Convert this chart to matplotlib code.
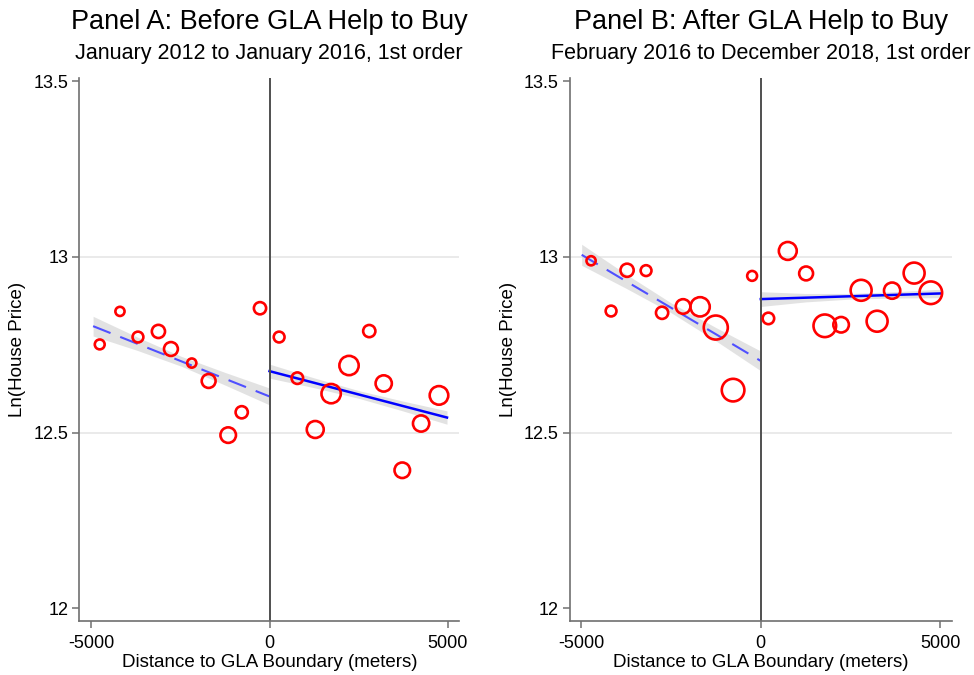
import numpy as np
import matplotlib.pyplot as plt

plt.rcParams['font.family'] = ['Liberation Sans', 'DejaVu Sans']

# -------------- data --------------
# Panel A: binned means, January 2012 - January 2016
a_dist = [-4764, -4196, -3691, -3117, -2766, -2181, -1708, -1159, -780, -267,
          270, 781, 1283, 1729, 2231, 2799, 3204, 3725, 4253, 4755]
a_price = [12.751, 12.845, 12.772, 12.788, 12.738, 12.698, 12.647, 12.493, 12.558, 12.854,
           12.772, 12.655, 12.509, 12.611, 12.691, 12.789, 12.640, 12.393, 12.526, 12.606]
a_weight = [5.3, 5.0, 5.7, 6.7, 7.0, 5.0, 7.0, 7.7, 6.3, 6.3,
            5.7, 6.0, 8.3, 9.3, 9.3, 6.3, 8.0, 7.7, 8.0, 9.0]

# Panel B: binned means, February 2016 - December 2018
b_dist = [-4728, -4171, -3725, -3196, -2750, -2165, -1691, -1254, -772, -242,
          212, 752, 1262, 1783, 2237, 2795, 3240, 3658, 4271, 4736]
b_price = [12.989, 12.846, 12.962, 12.961, 12.841, 12.859, 12.858, 12.799, 12.621, 12.946,
           12.825, 13.017, 12.953, 12.804, 12.807, 12.905, 12.817, 12.904, 12.954, 12.898]
b_weight = [5.0, 5.7, 6.7, 5.7, 6.3, 7.3, 9.3, 11.3, 10.7, 5.3,
            6.0, 8.7, 7.0, 10.7, 7.7, 10.0, 10.0, 8.0, 10.0, 10.7]

# linear fits with 95% CI (left / right of the boundary)
a_left_x = [-4950, -3710, -2475, -1240, 0]
a_left_fit = [12.803, 12.753, 12.703, 12.653, 12.603]
a_left_lo = [12.775, 12.734, 12.689, 12.635, 12.579]
a_left_hi = [12.831, 12.772, 12.717, 12.671, 12.627]
a_right_x = [0, 1245, 2490, 3735, 4980]
a_right_fit = [12.675, 12.642, 12.609, 12.576, 12.543]
a_right_lo = [12.655, 12.628, 12.598, 12.562, 12.524]
a_right_hi = [12.695, 12.656, 12.620, 12.590, 12.562]

b_left_x = [-4990, -3740, -2495, -1250, 0]
b_left_fit = [13.006, 12.930, 12.855, 12.780, 12.704]
b_left_lo = [12.976, 12.910, 12.841, 12.761, 12.676]
b_left_hi = [13.036, 12.950, 12.869, 12.799, 12.732]
b_right_x = [0, 1250, 2500, 3750, 5000]
b_right_fit = [12.880, 12.884, 12.888, 12.892, 12.896]
b_right_lo = [12.859, 12.872, 12.880, 12.883, 12.884]
b_right_hi = [12.901, 12.896, 12.896, 12.901, 12.908]

y_ticks = [12, 12.5, 13, 13.5]
x_ticks = [-5000, 0, 5000]

titles = ['Panel A: Before GLA Help to Buy', 'Panel B: After GLA Help to Buy']
subtitles = ['January 2012 to January 2016, 1st order',
             'February 2016 to December 2018, 1st order']
# ------------------------------------------------------

fig = plt.figure(figsize=(9.74, 6.75), dpi=100)
W, H = 974.0, 675.0
ax_a = fig.add_axes([79.3 / W, 1 - 620.7 / H, 380 / W, 542.7 / H])
ax_b = fig.add_axes([570 / W, 1 - 620.7 / H, 381.7 / W, 542.7 / H])

panels = [
    (ax_a, a_dist, a_price, a_weight,
     (a_left_x, a_left_fit, a_left_lo, a_left_hi),
     (a_right_x, a_right_fit, a_right_lo, a_right_hi), (-5337, 5325)),
    (ax_b, b_dist, b_price, b_weight,
     (b_left_x, b_left_fit, b_left_lo, b_left_hi),
     (b_right_x, b_right_fit, b_right_lo, b_right_hi), (-5315, 5318)),
]

mlw = 1.9
for i, (ax, dist, price, weight, left, right, xlim) in enumerate(panels):
    # grid lines (only interior ticks, like Stata)
    for gy in [12.5, 13]:
        ax.axhline(gy, color='#e6e6e6', lw=1.2, zorder=0)

    # confidence bands
    ax.fill_between(left[0], left[2], left[3], color='#d9d9d9', alpha=0.75, lw=0, zorder=1)
    ax.fill_between(right[0], right[2], right[3], color='#d9d9d9', alpha=0.75, lw=0, zorder=1)

    # fitted lines
    ax.plot(left[0], left[1], color='#5050ff', lw=1.5, dashes=(9, 5), zorder=2)
    ax.plot(right[0], right[1], color='#0000ff', lw=1.8, zorder=2)

    # binned scatter, hollow red circles sized by weight
    w = np.array(weight) * 1.18
    s = (2 * w * 0.72 - mlw) ** 2
    ax.scatter(dist, price, s=s, facecolors='none', edgecolors='#ff0000',
               linewidths=mlw, zorder=3)

    # boundary line
    ax.axvline(0, color='#505050', lw=1.4, zorder=2)

    ax.set_xlim(*xlim)
    ax.set_ylim(11.965, 13.509)
    ax.set_xticks(x_ticks)
    ax.set_xticklabels([str(t) for t in x_ticks])
    ax.set_yticks(y_ticks)
    ax.set_yticklabels(['12', '12.5', '13', '13.5'])

    for side in ['top', 'right']:
        ax.spines[side].set_visible(False)
    for side in ['left', 'bottom']:
        ax.spines[side].set_color('#707070')
        ax.spines[side].set_linewidth(1.2)
    ax.tick_params(axis='both', colors='#707070', labelcolor='black', labelsize=13,
                   length=5, width=1.1)
    ax.tick_params(axis='x', pad=5)
    ax.tick_params(axis='y', pad=3)

    ax.set_xlabel('Distance to GLA Boundary (meters)', fontsize=13.5, labelpad=2)
    ax.set_ylabel('Ln(House Price)', fontsize=13.5, labelpad=5)

    bb = ax.get_position()
    cx = (bb.x0 + bb.x1) / 2
    fig.text(cx, 1 - 22 / H, titles[i], ha='center', va='center', fontsize=19.5)
    fig.text(cx, 1 - 54 / H, subtitles[i], ha='center', va='center', fontsize=15.5)

fig.savefig('out.png', dpi=100, facecolor='white')
